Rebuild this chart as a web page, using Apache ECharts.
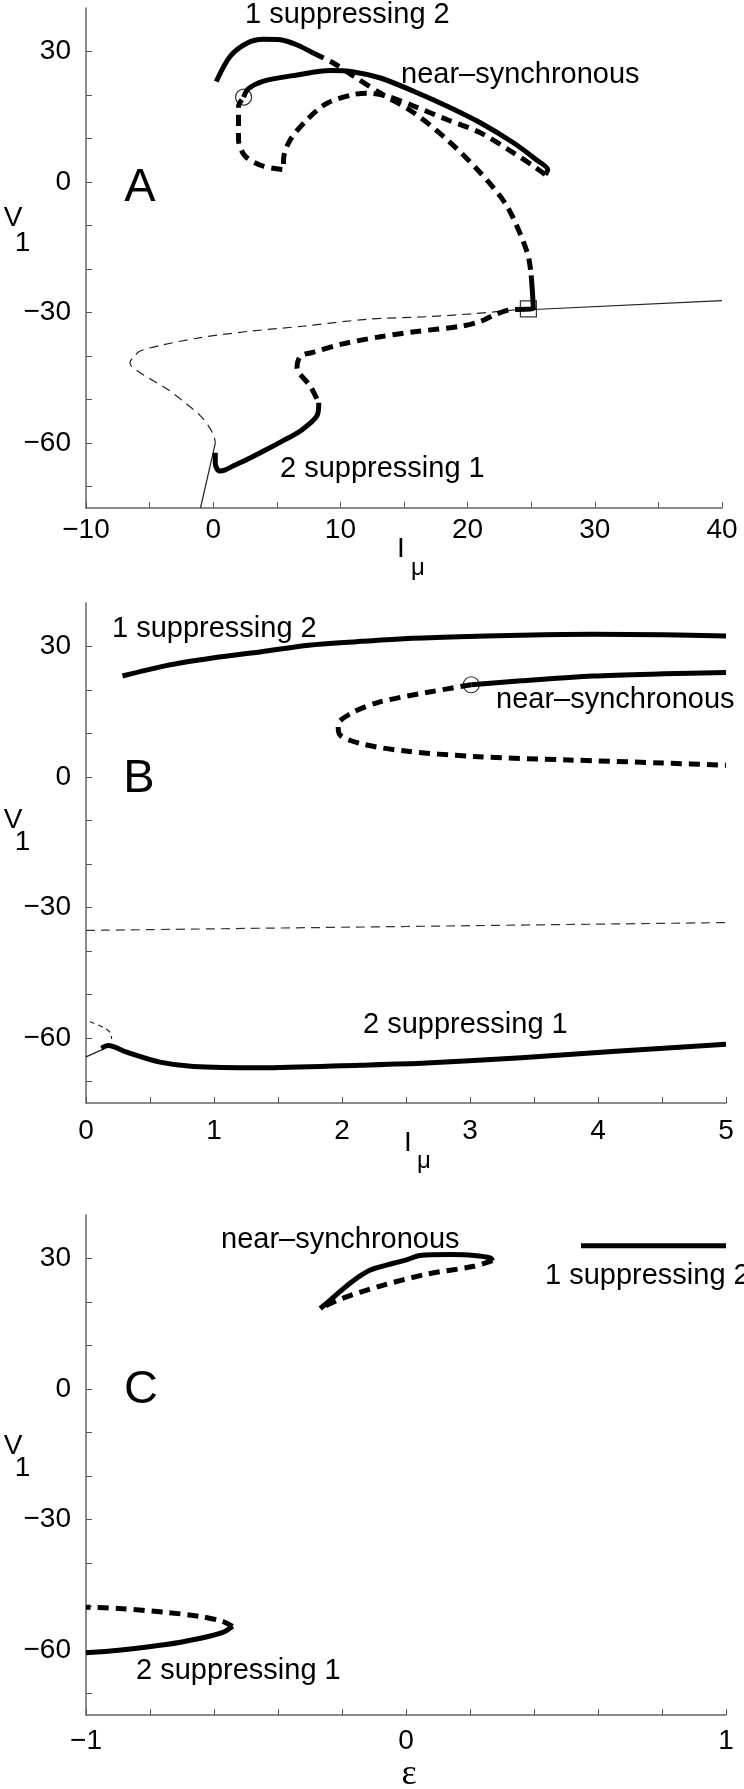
<!DOCTYPE html>
<html>
<head>
<meta charset="utf-8">
<script src="https://cdn.jsdelivr.net/npm/echarts@6/dist/echarts.min.js"></script>
<style>
  html, body { margin: 0; padding: 0; background: #fff; }
  #chart { width: 744px; height: 1789px; }
</style>
</head>
<body>
<div id="chart"></div>
<script>
// ---- panel A : V1 vs I_mu ----
const aS12Solid = [[0.24,23.1],[1.34,28.9],[2.65,31.9],[3.96,32.8],[5.28,32.7],[6.6,31.5],[7.9,29.6]];
const aS12Dash = [[7.9,29.6],[9.47,27.3],[11.05,24.3],[13.15,20.4],[15.77,15.9],[18.4,9.7],[21.0,2.1],[23.1,-5.6],[24.7,-16.3],[25.0,-21.5]];
const aS12Solid2 = [[25.0,-21.5],[25.1,-25.5],[25.17,-29.2],[24.6,-29.3]];
const aS21Dash = [[24.6,-29.3],[23.4,-29.4],[22.1,-30.6],[21.0,-32.1],[19.45,-33.2],[16.0,-34.4],[13.15,-35.6],[10.1,-37.3],[7.85,-39.2],[6.85,-40.1],[6.59,-42.7],[7.64,-47.0],[8.3,-50.8]];
const aS21Solid = [[8.3,-50.8],[8.16,-53.8],[6.85,-57.3],[5.5,-59.5],[4.23,-61.5],[2.9,-63.5],[1.6,-65.3],[0.9,-66.3],[0.55,-66.5],[0.3,-66.0],[0.16,-64.6],[0.16,-62.3]];
const aNearSolid = [[2.39,19.5],[2.75,21.4],[3.96,23.2],[6.6,24.6],[9.2,25.6],[11.05,25.3],[13.15,23.9],[15.8,20.8],[18.4,17.4],[21.0,13.6],[23.6,9.0],[25.4,5.1],[26.3,2.8],[26.1,1.7]];
const aNearDash = [[26.1,1.7],[25.2,3.6],[23.6,6.7],[21.0,11.3],[18.4,14.3],[15.8,17.4],[13.7,19.7],[12.1,20.4],[11.05,20.1],[8.95,18.1],[7.38,14.3],[6.06,9.7],[5.53,5.1],[5.53,2.8],[3.96,3.6],[2.52,5.9],[1.99,9.7],[1.99,17.4],[2.25,18.9]];
const aThinSolidRight = [[24.8,-29.4],[40,-27.3]];
const aThinDash = [[23.8,-29.4],[20.5,-30.3],[16.8,-31.0],[12.1,-31.6],[7,-33.2],[3,-34.3],[-1.0,-35.8],[-4.0,-37.5],[-5.75,-38.9],[-6.3,-40.4],[-6.54,-41.6],[-6.4,-42.5],[-5.75,-43.9],[-3.6,-47.7],[-2.2,-50.8],[-1.0,-53.8],[-0.4,-56.0],[0.05,-58.4],[0.17,-60]];
const aThinSolidLow = [[0.17,-60],[-1.0,-75]];
const aCircle = [[2.39,19.5]];
const aSquare = [[24.78,-29.2]];

// ---- panel B : V1 vs I_mu (zoom) ----
const bS12 = [[0.285,23.2],[0.626,25.6],[1.0,27.4],[1.37,28.8],[1.74,30.3],[2.11,31.1],[2.48,31.8],[2.85,32.2],[3.4,32.6],[3.96,32.8],[4.51,32.7],[5.0,32.4]];
const bNearSolid = [[3.01,21.2],[3.4,22.1],[3.96,23.2],[4.51,23.7],[5.0,24.0]];
const bNearDash = [[3.01,21.2],[2.66,19.4],[2.29,17.2],[2.07,14.6],[1.97,12.0],[1.98,9.8],[2.14,7.7],[2.48,6.0],[3.03,4.7],[3.77,3.9],[4.51,3.2],[5.0,2.7]];
const bThinDash = [[0,-35.3],[5,-33.5]];
const bThinSolid = [[0,-64.4],[0.135,-62.6]];
const bThinDashSmall = [[0.03,-56.3],[0.135,-57.6],[0.19,-58.8],[0.2,-60.3]];
const bS21 = [[0.12,-62.4],[0.174,-61.8],[0.318,-63.3],[0.578,-65.6],[0.84,-66.6],[1.36,-66.9],[2.14,-66.3],[2.66,-65.8],[3.4,-64.6],[4.14,-63.1],[5.0,-61.5]];
const bCircle = [[3.01,21.2]];

// ---- panel C : V1 vs epsilon ----
const cNearSolid = [[-0.268,18.5],[-0.231,20.8],[-0.172,24.5],[-0.113,27.3],[-0.039,28.9],[0.006,29.8],[0.043,30.7],[0.139,30.9],[0.213,30.7],[0.265,30.1],[0.27,29.5]];
const cNearDash = [[0.27,29.5],[0.213,28.2],[0.065,26.4],[-0.083,23.6],[-0.2,20.8],[-0.268,18.5]];
const cS12 = [[0.547,32.9],[1.0,32.9]];
const cS21Solid = [[-1,-60.7],[-0.898,-60.1],[-0.75,-58.8],[-0.646,-57.4],[-0.572,-56.0],[-0.542,-54.6]];
const cS21Dash = [[-0.542,-54.6],[-0.572,-53.5],[-0.646,-52.3],[-0.75,-51.4],[-0.898,-50.5],[-1,-50.2]];

// ticks
const yTicks = [-70,-60,-50,-40,-30,-20,-10,0,10,20,30];
const yLabels = [-60,-30,0,30];
const xTicksA = [-10,-5,0,5,10,15,20,25,30,35,40];
const xLabelsA = [-10,0,10,20,30,40];
const xTicksB = [0,0.5,1,1.5,2,2.5,3,3.5,4,4.5,5];
const xLabelsB = [0,1,2,3,4,5];
const xTicksC = [-1,-0.8,-0.6,-0.4,-0.2,0,0.2,0.4,0.6,0.8,1];
const xLabelsC = [-1,0,1];

const FONT = '"Liberation Sans", Arial, sans-serif';
const fmt = v => (v < 0 ? '\u2212' + (-v) : String(v));

function xAxis(gi, min, max, ticks, labels, margin) {
  return {
    type: 'value', gridIndex: gi, min, max,
    splitLine: { show: false },
    axisLine: { onZero: false, lineStyle: { color: '#666', width: 1.5 } },
    axisTick: { inside: true, length: 6, customValues: ticks, lineStyle: { color: '#555' } },
    axisLabel: { customValues: labels, formatter: fmt, color: '#000', fontSize: 28, fontFamily: FONT, margin }
  };
}
function yAxis(gi) {
  return {
    type: 'value', gridIndex: gi, min: -75, max: 40,
    splitLine: { show: false },
    axisLine: { onZero: false, lineStyle: { color: '#666', width: 1.5 } },
    axisTick: { inside: true, length: 6, customValues: yTicks, lineStyle: { color: '#555' } },
    axisLabel: { customValues: yLabels, formatter: fmt, color: '#000', fontSize: 28, fontFamily: FONT, margin: 15 }
  };
}

const THICK = 5, THIN = 1.2;
const DASH = [11, 7], THINDASH = [9, 6];
function line(data, gi, width, type, color) {
  return {
    type: 'line', data, xAxisIndex: gi, yAxisIndex: gi,
    symbol: 'none', smooth: 0.3, silent: true, animation: false,
    lineStyle: { color: color || '#000', width, type, cap: 'butt', join: 'round' },
    z: width > 2 ? 3 : 2
  };
}
function marker(data, gi, symbol, size) {
  return {
    type: 'scatter', data, xAxisIndex: gi, yAxisIndex: gi, symbol, symbolSize: size,
    silent: true, animation: false, z: 5,
    itemStyle: { color: 'rgba(255,255,255,0)', borderColor: '#000', borderWidth: 1.2 }
  };
}

function txt(text, x, y, size, align, family) {
  return {
    type: 'text', x, y, silent: true,
    style: { text, fill: '#000', font: size + 'px ' + (family || FONT), align: align || 'left', verticalAlign: 'middle' }
  };
}

const chart = echarts.init(document.getElementById('chart'), null, { renderer: 'canvas' });
chart.setOption({
  animation: false,
  backgroundColor: '#fff',
  grid: [
    { left: 86, top: 8, width: 636, height: 500 },
    { left: 86, top: 603, width: 640, height: 500 },
    { left: 86, top: 1215, width: 640, height: 500 }
  ],
  xAxis: [
    xAxis(0, -10, 40, xTicksA, xLabelsA, 8),
    xAxis(1, 0, 5, xTicksB, xLabelsB, 14),
    xAxis(2, -1, 1, xTicksC, xLabelsC, 12)
  ],
  yAxis: [yAxis(0), yAxis(1), yAxis(2)],
  series: [
    line(aThinSolidRight, 0, THIN, 'solid', '#222'),
    line(aThinDash, 0, THIN, THINDASH, '#222'),
    line(aThinSolidLow, 0, THIN, 'solid', '#222'),
    line(aS12Solid, 0, THICK, 'solid'),
    line(aS12Dash, 0, THICK, DASH),
    line(aS12Solid2, 0, THICK, 'solid'),
    line(aS21Dash, 0, THICK, DASH),
    line(aS21Solid, 0, THICK, 'solid'),
    line(aNearSolid, 0, THICK, 'solid'),
    line(aNearDash, 0, THICK, DASH),
    marker(aCircle, 0, 'circle', 16),
    marker(aSquare, 0, 'rect', 16),

    line(bThinDash, 1, THIN, THINDASH, '#333'),
    line(bThinSolid, 1, THIN, 'solid', '#222'),
    line(bThinDashSmall, 1, THIN, [5, 4], '#222'),
    line(bS12, 1, THICK, 'solid'),
    line(bNearSolid, 1, THICK, 'solid'),
    line(bNearDash, 1, THICK, DASH),
    line(bS21, 1, THICK, 'solid'),
    marker(bCircle, 1, 'circle', 16),

    line(cNearSolid, 2, THICK, 'solid'),
    line(cNearDash, 2, THICK, DASH),
    line(cS12, 2, THICK, 'solid'),
    line(cS21Solid, 2, THICK, 'solid'),
    line(cS21Dash, 2, THICK, DASH)
  ],
  graphic: [
    txt('1 suppressing 2', 245, 15, 29),
    txt('near\u2013synchronous', 401, 75, 29),
    txt('2 suppressing 1', 280, 469, 29),
    txt('A', 140, 188, 47, 'center'),
    txt('V', 13, 218, 28, 'center'),
    txt('1', 22.5, 243, 28, 'center'),
    txt('I', 401, 549, 28, 'center'),
    txt('\u03bc', 418, 568, 24, 'center'),

    txt('1 suppressing 2', 112, 629, 29),
    txt('near\u2013synchronous', 496, 700, 29),
    txt('2 suppressing 1', 363, 1025, 29),
    txt('B', 139, 779, 47, 'center'),
    txt('V', 13, 820, 28, 'center'),
    txt('1', 22.5, 842, 28, 'center'),
    txt('I', 408, 1143, 28, 'center'),
    txt('\u03bc', 424, 1161, 24, 'center'),

    txt('near\u2013synchronous', 221, 1240, 29),
    txt('1 suppressing 2', 545, 1276, 29),
    txt('2 suppressing 1', 136, 1671, 29),
    txt('C', 141, 1390, 47, 'center'),
    txt('V', 13, 1446, 28, 'center'),
    txt('1', 22.5, 1468, 28, 'center'),
    txt('\u03b5', 409, 1775, 36, 'center', '"Liberation Serif", "DejaVu Serif", serif')
  ]
});
</script>
</body>
</html>
